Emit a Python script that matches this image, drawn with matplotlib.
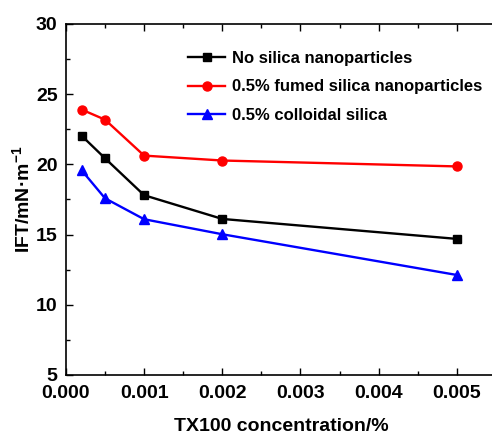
import matplotlib
matplotlib.use("Agg")
import matplotlib.pyplot as plt
from matplotlib.ticker import MultipleLocator, FormatStrFormatter

plt.rcParams['font.family'] = ['Liberation Sans', 'DejaVu Sans']
plt.rcParams['font.weight'] = 'bold'
plt.rcParams['mathtext.fontset'] = 'custom'
plt.rcParams['mathtext.bf'] = 'Liberation Sans:bold'
plt.rcParams['mathtext.rm'] = 'Liberation Sans:bold'

# TX100 concentration (%) and interfacial tension (mN/m)
concentration = [0.0002, 0.0005, 0.001, 0.002, 0.005]
ift_no_silica = [22.04, 20.43, 17.80, 16.11, 14.69]
ift_fumed = [23.90, 23.18, 20.62, 20.27, 19.85]
ift_colloidal = [19.58, 17.58, 16.09, 15.02, 12.12]

series_labels = ["No silica nanoparticles",
                 "0.5% fumed silica nanoparticles",
                 "0.5% colloidal silica"]

fig = plt.figure(figsize=(4.92, 4.34), dpi=100)
ax = fig.add_axes([0.134, 0.136, 0.874, 0.809])

ax.plot(concentration, ift_no_silica, color='black', marker='s',
        markersize=5.5, linewidth=1.7, label=series_labels[0])
ax.plot(concentration, ift_fumed, color='red', marker='o',
        markersize=6.5, linewidth=1.7, label=series_labels[1])
ax.plot(concentration, ift_colloidal, color='blue', marker='^',
        markersize=7, linewidth=1.7, label=series_labels[2])

ax.set_xlim(0, 0.0055)
ax.set_ylim(5, 30)
ax.xaxis.set_major_locator(MultipleLocator(0.001))
ax.xaxis.set_minor_locator(MultipleLocator(0.0005))
ax.xaxis.set_major_formatter(FormatStrFormatter('%.3f'))
ax.yaxis.set_major_locator(MultipleLocator(5))
ax.yaxis.set_minor_locator(MultipleLocator(2.5))

ax.tick_params(which='both', direction='in', top=True, right=False,
               labelsize=14, width=1)
ax.tick_params(which='major', length=5)
ax.tick_params(which='minor', length=3)
ax.tick_params(axis='x', pad=7)
ax.tick_params(axis='y', pad=6)
for lab in ax.get_xticklabels() + ax.get_yticklabels():
    lab.set_fontweight('bold')
for spine in ax.spines.values():
    spine.set_linewidth(1.2)
ax.spines['right'].set_visible(False)

ax.set_xlabel("TX100 concentration/%", fontsize=14, fontweight='bold',
              labelpad=12)
ax.set_ylabel(r"IFT/mN·m$^{\mathbf{-1}}$", fontsize=14, fontweight='bold',
              labelpad=1)

ax.legend(loc='upper left', bbox_to_anchor=(0.25, 0.965), frameon=False,
          handlelength=2.2, handletextpad=0.4, labelspacing=0.8,
          prop={'weight': 'bold', 'size': 12})

fig.savefig("out.png", dpi=100)
